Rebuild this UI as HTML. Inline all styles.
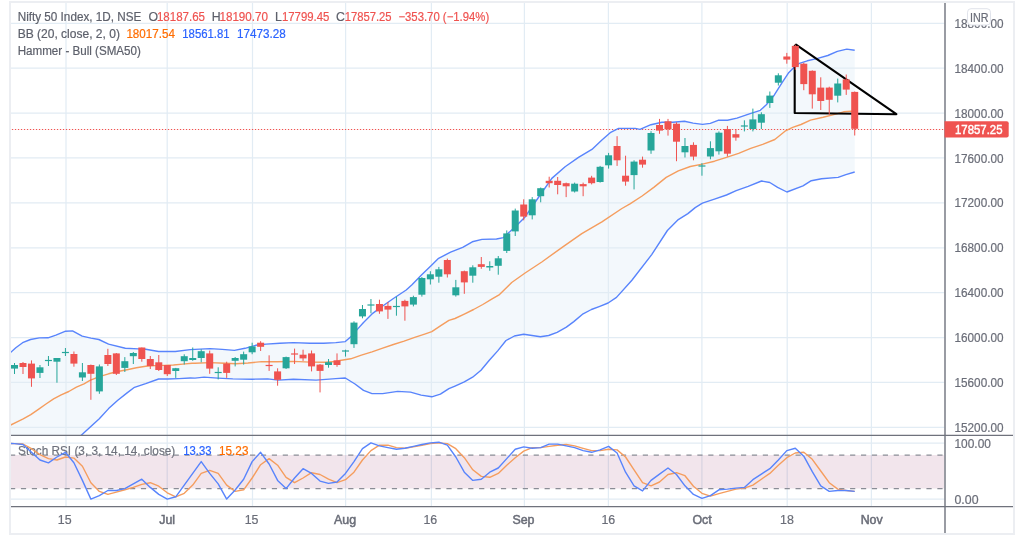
<!DOCTYPE html>
<html><head><meta charset="utf-8"><style>
html,body{margin:0;padding:0;background:#fff;width:1024px;height:539px;overflow:hidden;position:relative}
text{font-family:"Liberation Sans", sans-serif}
svg{will-change:transform}
.ax{font-size:12.4px;fill:#6a6d78;stroke:#6a6d78;stroke-width:0.2px}
.ax.w{stroke:#fff;stroke-width:0.45px}
.ax.b{stroke-width:0.5px}
.lg{font-size:12.3px;fill:#5d606b;stroke:#5d606b;stroke-width:0.2px}
</style></head><body>
<svg width="1024" height="539" viewBox="0 0 1024 539" style="position:absolute;left:0;top:0"><rect x="9" y="1" width="1006" height="534" fill="#fff" stroke="none"/><rect x="10" y="2" width="1004" height="532" fill="none" stroke="#eceef2" stroke-width="2"/><clipPath id="mainclip"><rect x="11" y="3" width="934" height="432"/></clipPath><clipPath id="stclip"><rect x="11" y="436" width="934" height="70"/></clipPath><g clip-path="url(#mainclip)"><polygon points="10.4,352.7 15.8,347.8 22.6,342.7 30.5,339.5 39.3,337.9 48,337.8 55.9,335.1 65.6,331.2 72.5,330.9 82.2,336.1 91,338.1 98.8,339.5 108.6,344.1 125.3,348.3 138.2,348.9 145.7,349.3 158.6,351.5 175.3,351.5 190.2,349.6 195,349.4 210.1,348.6 222.2,349.4 234.4,350.4 245,348.3 255.6,345.3 266.1,344.1 279.8,343.3 293.4,342.6 310,343.3 323.7,343.3 335.8,342.6 345.3,341.6 351.7,335.9 358.2,328.4 363.5,322.5 372,313.9 382.7,306 393.4,298.5 406.2,290 412,284.8 421.7,274.7 431.3,265.5 438.6,258.3 450.6,252.2 462.7,247.4 472.3,241.8 482,239.4 496.5,239 503.4,237.6 515,226.9 525.1,216.9 538.4,197.5 551.8,178.4 565.1,166.8 578.5,157.4 591.9,149.4 601.9,140 610.2,132.7 618.6,128.4 635.3,128.4 640,129.4 650.9,124.7 661.9,122.3 672.8,122.3 684.5,121.3 693.1,123.1 702.5,124.4 710.3,123.4 718.1,120.3 727.5,120.3 736.9,118.1 749.4,113.8 760.3,110.3 766.3,104.7 774.2,95.2 782.1,82.6 788.4,73.1 793.9,67.6 799.4,63.3 807.3,60.8 816.8,58.6 827.8,55.5 837.3,51.4 846.8,49.1 854.7,50.2 854.7,172 845.9,174.6 838.1,177.4 821.5,178.8 811.3,180.7 803,185.9 786.9,192 777.6,187.3 769.8,182.5 761.5,181 748.2,186.3 736.2,190.7 726.5,195 714.5,199.1 702.4,203.2 695.2,207.6 687.9,213.6 678.3,219.6 667.4,230.5 651.7,254.6 631.9,280.3 616.5,297.4 608.1,303 599.8,306.3 591.4,309.5 583.1,313.8 573.8,321.6 566.4,327.1 557.1,332.3 548.7,335.5 540.4,336.8 532,335.5 523.7,334.2 514.4,336 506,340.5 497.7,350.9 489.3,360.2 481,370.2 472.6,377.2 464.3,381.9 455,386.1 448.9,388.7 440.4,394.2 431.8,396.8 421.1,395.1 410.5,392.1 397.7,391.4 382.7,393.6 372,393.6 363.5,390.4 355,384 345.3,378 335.8,378.6 316.1,380.1 293.4,379.2 278.3,380.1 267.7,378.9 252.5,379.2 232.8,378.9 217.7,378.1 204.1,377.1 195,378.1 190.2,378 179.1,378.6 167.9,379 158.6,379 145.7,383.6 134.5,387.3 127.1,392.9 117.8,400.3 108.6,408.6 99.3,418.8 90,427.2 81,435.5 10,435.5" fill="#f3f8fc"/></g><path d="M11 23.3H945 M11 68.19H945 M11 113.08H945 M11 157.97H945 M11 202.86H945 M11 247.75H945 M11 292.64H945 M11 337.53H945 M11 382.42H945 M11 427.31H945 M11 443.2H945 M11 499.0H945 M66 3V506 M167.2 3V506 M252.5 3V506 M345.6 3V506 M431.4 3V506 M524.4 3V506 M608.4 3V506 M701.9 3V506 M787.2 3V506 M871.4 3V506" stroke="#e2ecf4" stroke-width="1.25" fill="none"/><g clip-path="url(#mainclip)"><path d="M11 129.5H945" stroke="#ef5350" stroke-width="1.2" stroke-dasharray="1.3 1.7" stroke-dashoffset="2.11" fill="none"/><polyline points="10.4,352.7 15.8,347.8 22.6,342.7 30.5,339.5 39.3,337.9 48,337.8 55.9,335.1 65.6,331.2 72.5,330.9 82.2,336.1 91,338.1 98.8,339.5 108.6,344.1 125.3,348.3 138.2,348.9 145.7,349.3 158.6,351.5 175.3,351.5 190.2,349.6 195,349.4 210.1,348.6 222.2,349.4 234.4,350.4 245,348.3 255.6,345.3 266.1,344.1 279.8,343.3 293.4,342.6 310,343.3 323.7,343.3 335.8,342.6 345.3,341.6 351.7,335.9 358.2,328.4 363.5,322.5 372,313.9 382.7,306 393.4,298.5 406.2,290 412,284.8 421.7,274.7 431.3,265.5 438.6,258.3 450.6,252.2 462.7,247.4 472.3,241.8 482,239.4 496.5,239 503.4,237.6 515,226.9 525.1,216.9 538.4,197.5 551.8,178.4 565.1,166.8 578.5,157.4 591.9,149.4 601.9,140 610.2,132.7 618.6,128.4 635.3,128.4 640,129.4 650.9,124.7 661.9,122.3 672.8,122.3 684.5,121.3 693.1,123.1 702.5,124.4 710.3,123.4 718.1,120.3 727.5,120.3 736.9,118.1 749.4,113.8 760.3,110.3 766.3,104.7 774.2,95.2 782.1,82.6 788.4,73.1 793.9,67.6 799.4,63.3 807.3,60.8 816.8,58.6 827.8,55.5 837.3,51.4 846.8,49.1 854.7,50.2" fill="none" stroke="#5884fc" stroke-width="1.4" stroke-linejoin="round"/><polyline points="81,435.5 90,427.2 99.3,418.8 108.6,408.6 117.8,400.3 127.1,392.9 134.5,387.3 145.7,383.6 158.6,379 167.9,379 179.1,378.6 190.2,378 195,378.1 204.1,377.1 217.7,378.1 232.8,378.9 252.5,379.2 267.7,378.9 278.3,380.1 293.4,379.2 316.1,380.1 335.8,378.6 345.3,378 355,384 363.5,390.4 372,393.6 382.7,393.6 397.7,391.4 410.5,392.1 421.1,395.1 431.8,396.8 440.4,394.2 448.9,388.7 455,386.1 464.3,381.9 472.6,377.2 481,370.2 489.3,360.2 497.7,350.9 506,340.5 514.4,336 523.7,334.2 532,335.5 540.4,336.8 548.7,335.5 557.1,332.3 566.4,327.1 573.8,321.6 583.1,313.8 591.4,309.5 599.8,306.3 608.1,303 616.5,297.4 631.9,280.3 651.7,254.6 667.4,230.5 678.3,219.6 687.9,213.6 695.2,207.6 702.4,203.2 714.5,199.1 726.5,195 736.2,190.7 748.2,186.3 761.5,181 769.8,182.5 777.6,187.3 786.9,192 803,185.9 811.3,180.7 821.5,178.8 838.1,177.4 845.9,174.6 854.7,172" fill="none" stroke="#5884fc" stroke-width="1.4" stroke-linejoin="round"/><polyline points="10.3,425.2 17.1,421.9 23.2,418.8 30.8,414.6 38.4,409.4 46,404 53.6,398.8 61.2,394.8 68.8,391.5 76.4,387.2 84,383.9 90,380.4 99.3,376.7 108.6,373.8 117.8,371.5 127.1,369.7 136.4,367.8 145.7,366.3 154.9,365.6 164.2,365.4 173.5,365 182.8,364.1 192,363.2 195,363.3 210.1,362.6 225.3,363.3 235.9,363.8 248,363 261.6,361.6 276.7,361.7 293.4,361.4 310,362.1 325.2,362.3 335.8,361.5 340,360.5 350.7,358.8 361.4,355.1 372,351.9 382.7,348.1 393.4,344.5 404.1,341.2 414.7,337.4 425.4,333.8 431.8,331.6 440.4,325.9 448.9,320.3 455,318.5 464.3,314.1 473.6,309.5 482.8,304.5 492.1,298.9 499.5,294.6 511.7,282.5 525.1,273 541.8,262 561.8,247.6 581.8,233.6 601.9,221.9 621.9,208.5 630,203.9 642.1,196 654.1,187.1 666.2,177.4 678.3,170.9 690.3,166.5 702.4,164.1 714.5,161.2 726.5,157.4 738.6,153.3 750.7,148.4 762.7,144.3 774.8,139.5 785,131.2 792.7,127.3 801,124.5 810.5,120.1 823.1,117.3 835.7,114.1 843.6,111.8 854.7,111" fill="none" stroke="#f59d5e" stroke-width="1.4" stroke-linejoin="round"/><path d="M794.7 113 L794.7 46 L796 44.7 L896.4 114.2 Z" fill="none" stroke="#000" stroke-width="2.1" stroke-linejoin="round"/><g><rect x="14" y="363" width="1" height="11" fill="#26a69a"/><rect x="11" y="365" width="7" height="3.6" fill="#26a69a"/><rect x="22.49" y="362" width="1" height="12" fill="#ef5350"/><rect x="19.49" y="363" width="7" height="4" fill="#ef5350"/><rect x="30.97" y="360.4" width="1" height="26.4" fill="#ef5350"/><rect x="27.97" y="363.6" width="7" height="14.8" fill="#ef5350"/><rect x="39.46" y="365" width="1" height="13" fill="#26a69a"/><rect x="36.46" y="367.3" width="7" height="5.6" fill="#26a69a"/><rect x="47.95" y="356" width="1" height="10" fill="#26a69a"/><rect x="44.95" y="359.9" width="7" height="1.2" fill="#26a69a"/><rect x="56.44" y="358" width="1" height="24.7" fill="#26a69a"/><rect x="53.44" y="358" width="7" height="3.7" fill="#26a69a"/><rect x="64.92" y="348" width="1" height="8" fill="#26a69a"/><rect x="61.92" y="351.9" width="7" height="1.2" fill="#26a69a"/><rect x="73.41" y="351.5" width="1" height="15.2" fill="#ef5350"/><rect x="70.41" y="354" width="7" height="9.6" fill="#ef5350"/><rect x="81.9" y="363" width="1" height="18" fill="#26a69a"/><rect x="78.9" y="372.3" width="7" height="5.2" fill="#26a69a"/><rect x="90.38" y="364.5" width="1" height="35.3" fill="#ef5350"/><rect x="87.38" y="365" width="7" height="8.8" fill="#ef5350"/><rect x="98.87" y="364.5" width="1" height="29.3" fill="#26a69a"/><rect x="95.87" y="366.4" width="7" height="25" fill="#26a69a"/><rect x="107.36" y="348.8" width="1" height="17.2" fill="#ef5350"/><rect x="104.36" y="355" width="7" height="9" fill="#ef5350"/><rect x="115.84" y="353" width="1" height="22" fill="#ef5350"/><rect x="112.84" y="353.4" width="7" height="20.4" fill="#ef5350"/><rect x="124.33" y="357.1" width="1" height="14.9" fill="#26a69a"/><rect x="121.33" y="361.2" width="7" height="6.7" fill="#26a69a"/><rect x="132.82" y="352" width="1" height="12" fill="#26a69a"/><rect x="129.82" y="353" width="7" height="3.2" fill="#26a69a"/><rect x="141.31" y="347.5" width="1" height="14.2" fill="#ef5350"/><rect x="138.31" y="347.5" width="7" height="11.5" fill="#ef5350"/><rect x="149.79" y="356" width="1" height="13" fill="#ef5350"/><rect x="146.79" y="359" width="7" height="7" fill="#ef5350"/><rect x="158.28" y="355" width="1" height="16" fill="#ef5350"/><rect x="155.28" y="362.3" width="7" height="7.7" fill="#ef5350"/><rect x="166.77" y="365" width="1" height="11" fill="#ef5350"/><rect x="163.77" y="365" width="7" height="9.2" fill="#ef5350"/><rect x="175.25" y="367.9" width="1" height="10" fill="#26a69a"/><rect x="172.25" y="368.2" width="7" height="2.8" fill="#26a69a"/><rect x="183.74" y="354.3" width="1" height="10.2" fill="#26a69a"/><rect x="180.74" y="356.2" width="7" height="5" fill="#26a69a"/><rect x="192.23" y="347.5" width="1" height="13.3" fill="#26a69a"/><rect x="189.23" y="358" width="7" height="2" fill="#26a69a"/><rect x="200.71" y="349.3" width="1" height="13" fill="#26a69a"/><rect x="197.71" y="351.2" width="7" height="6.8" fill="#26a69a"/><rect x="209.2" y="350.6" width="1" height="23.2" fill="#ef5350"/><rect x="206.2" y="353.4" width="7" height="15.2" fill="#ef5350"/><rect x="217.69" y="367.3" width="1" height="12.1" fill="#26a69a"/><rect x="214.69" y="371.9" width="7" height="1.2" fill="#26a69a"/><rect x="226.18" y="361.7" width="1" height="16.2" fill="#ef5350"/><rect x="223.18" y="363.6" width="7" height="9.3" fill="#ef5350"/><rect x="234.66" y="357" width="1" height="9.4" fill="#26a69a"/><rect x="231.66" y="358" width="7" height="2.8" fill="#26a69a"/><rect x="243.15" y="351.6" width="1" height="13" fill="#26a69a"/><rect x="240.15" y="354.2" width="7" height="5.5" fill="#26a69a"/><rect x="251.64" y="342.7" width="1" height="11.5" fill="#26a69a"/><rect x="248.64" y="346.4" width="7" height="5.9" fill="#26a69a"/><rect x="260.12" y="341.2" width="1" height="9.8" fill="#ef5350"/><rect x="257.12" y="342.7" width="7" height="4.1" fill="#ef5350"/><rect x="268.61" y="355.3" width="1" height="15.6" fill="#ef5350"/><rect x="265.61" y="364.9" width="7" height="1.2" fill="#ef5350"/><rect x="277.1" y="368.3" width="1" height="17.4" fill="#ef5350"/><rect x="274.1" y="371.4" width="7" height="8.4" fill="#ef5350"/><rect x="285.58" y="356.6" width="1" height="12.4" fill="#26a69a"/><rect x="282.58" y="357.1" width="7" height="11.2" fill="#26a69a"/><rect x="294.07" y="348.6" width="1" height="15.4" fill="#ef5350"/><rect x="291.07" y="353.4" width="7" height="1.2" fill="#ef5350"/><rect x="302.56" y="349.7" width="1" height="11.2" fill="#ef5350"/><rect x="299.56" y="354.7" width="7" height="3.7" fill="#ef5350"/><rect x="311.05" y="350.5" width="1" height="20.9" fill="#ef5350"/><rect x="308.05" y="353.4" width="7" height="13" fill="#ef5350"/><rect x="319.53" y="364" width="1" height="28.4" fill="#ef5350"/><rect x="316.53" y="364.6" width="7" height="6.3" fill="#ef5350"/><rect x="328.02" y="359" width="1" height="8.7" fill="#26a69a"/><rect x="325.02" y="362.2" width="7" height="2.8" fill="#26a69a"/><rect x="336.51" y="353.4" width="1" height="13.4" fill="#ef5350"/><rect x="333.51" y="360.3" width="7" height="4.7" fill="#ef5350"/><rect x="344.99" y="349.7" width="1" height="6.9" fill="#26a69a"/><rect x="341.99" y="350.4" width="7" height="1.2" fill="#26a69a"/><rect x="353.48" y="321.3" width="1" height="26.6" fill="#26a69a"/><rect x="350.48" y="322.6" width="7" height="21.6" fill="#26a69a"/><rect x="361.97" y="305" width="1" height="13.3" fill="#26a69a"/><rect x="358.97" y="309" width="7" height="7.4" fill="#26a69a"/><rect x="370.45" y="299" width="1" height="14.3" fill="#26a69a"/><rect x="367.45" y="304.4" width="7" height="1.2" fill="#26a69a"/><rect x="378.94" y="299.7" width="1" height="14.1" fill="#ef5350"/><rect x="375.94" y="304" width="7" height="7.4" fill="#ef5350"/><rect x="387.43" y="302" width="1" height="16.9" fill="#ef5350"/><rect x="384.43" y="305.9" width="7" height="3.7" fill="#ef5350"/><rect x="395.92" y="296.6" width="1" height="19.1" fill="#26a69a"/><rect x="392.92" y="305.9" width="7" height="1.2" fill="#26a69a"/><rect x="404.4" y="299.7" width="1" height="21" fill="#ef5350"/><rect x="401.4" y="300.9" width="7" height="5.5" fill="#ef5350"/><rect x="412.89" y="295.7" width="1" height="10.7" fill="#26a69a"/><rect x="409.89" y="297.1" width="7" height="7.5" fill="#26a69a"/><rect x="421.38" y="277" width="1" height="19.6" fill="#26a69a"/><rect x="418.38" y="278" width="7" height="16.7" fill="#26a69a"/><rect x="429.86" y="271.2" width="1" height="13.3" fill="#26a69a"/><rect x="426.86" y="274.3" width="7" height="5" fill="#26a69a"/><rect x="438.35" y="266.9" width="1" height="15.8" fill="#26a69a"/><rect x="435.35" y="269.3" width="7" height="7.4" fill="#26a69a"/><rect x="446.84" y="258.6" width="1" height="18.9" fill="#ef5350"/><rect x="443.84" y="260" width="7" height="14.3" fill="#ef5350"/><rect x="455.32" y="279.9" width="1" height="16.7" fill="#26a69a"/><rect x="452.32" y="287.3" width="7" height="8" fill="#26a69a"/><rect x="463.81" y="270.6" width="1" height="23.2" fill="#ef5350"/><rect x="460.81" y="271.2" width="7" height="11.2" fill="#ef5350"/><rect x="472.3" y="265.3" width="1" height="17.4" fill="#26a69a"/><rect x="469.3" y="267.3" width="7" height="8.4" fill="#26a69a"/><rect x="480.79" y="257" width="1" height="11.8" fill="#ef5350"/><rect x="477.79" y="264.2" width="7" height="2.7" fill="#ef5350"/><rect x="489.27" y="261.3" width="1" height="9.5" fill="#26a69a"/><rect x="486.27" y="266" width="7" height="1.5" fill="#26a69a"/><rect x="497.76" y="256" width="1" height="18.7" fill="#26a69a"/><rect x="494.76" y="258.3" width="7" height="7.5" fill="#26a69a"/><rect x="506.25" y="230.4" width="1" height="22.6" fill="#26a69a"/><rect x="503.25" y="233.4" width="7" height="17.5" fill="#26a69a"/><rect x="514.73" y="208.6" width="1" height="27.4" fill="#26a69a"/><rect x="511.73" y="210.5" width="7" height="20.9" fill="#26a69a"/><rect x="523.22" y="199.3" width="1" height="21" fill="#ef5350"/><rect x="520.22" y="204.5" width="7" height="12.1" fill="#ef5350"/><rect x="531.71" y="197.1" width="1" height="22.3" fill="#26a69a"/><rect x="528.71" y="199.3" width="7" height="16" fill="#26a69a"/><rect x="540.19" y="187.5" width="1" height="14.8" fill="#26a69a"/><rect x="537.19" y="188.2" width="7" height="8" fill="#26a69a"/><rect x="548.68" y="176.7" width="1" height="10.8" fill="#ef5350"/><rect x="545.68" y="180.8" width="7" height="2.4" fill="#ef5350"/><rect x="557.17" y="177" width="1" height="17.3" fill="#ef5350"/><rect x="554.17" y="180.8" width="7" height="4.2" fill="#ef5350"/><rect x="565.65" y="182.6" width="1" height="14.5" fill="#ef5350"/><rect x="562.65" y="183.2" width="7" height="3.1" fill="#ef5350"/><rect x="574.14" y="182.6" width="1" height="9.9" fill="#26a69a"/><rect x="571.14" y="183.7" width="7" height="7.8" fill="#26a69a"/><rect x="582.63" y="182.6" width="1" height="13.6" fill="#ef5350"/><rect x="579.63" y="184.1" width="7" height="2.2" fill="#ef5350"/><rect x="591.12" y="175.8" width="1" height="8.6" fill="#ef5350"/><rect x="588.12" y="177.6" width="7" height="5.6" fill="#ef5350"/><rect x="599.6" y="165.9" width="1" height="16.7" fill="#26a69a"/><rect x="596.6" y="166.8" width="7" height="15.2" fill="#26a69a"/><rect x="608.09" y="152.9" width="1" height="15.7" fill="#26a69a"/><rect x="605.09" y="155.3" width="7" height="10" fill="#26a69a"/><rect x="616.58" y="136.2" width="1" height="29.7" fill="#ef5350"/><rect x="613.58" y="146" width="7" height="14.3" fill="#ef5350"/><rect x="625.06" y="155.7" width="1" height="30" fill="#ef5350"/><rect x="622.06" y="175.7" width="7" height="5.9" fill="#ef5350"/><rect x="633.55" y="160.3" width="1" height="29.1" fill="#26a69a"/><rect x="630.55" y="161.6" width="7" height="13.5" fill="#26a69a"/><rect x="642.04" y="156.6" width="1" height="11.1" fill="#ef5350"/><rect x="639.04" y="159.7" width="7" height="4.9" fill="#ef5350"/><rect x="650.52" y="131.2" width="1" height="22.6" fill="#26a69a"/><rect x="647.52" y="133" width="7" height="17.5" fill="#26a69a"/><rect x="659.01" y="118.9" width="1" height="14.9" fill="#ef5350"/><rect x="656.01" y="125" width="7" height="5.6" fill="#ef5350"/><rect x="667.5" y="118.9" width="1" height="16.7" fill="#ef5350"/><rect x="664.5" y="121.3" width="7" height="8" fill="#ef5350"/><rect x="675.99" y="122.3" width="1" height="38.9" fill="#ef5350"/><rect x="672.99" y="123.7" width="7" height="18" fill="#ef5350"/><rect x="684.47" y="138" width="1" height="19.5" fill="#26a69a"/><rect x="681.47" y="146" width="7" height="6.3" fill="#26a69a"/><rect x="692.96" y="142.3" width="1" height="18" fill="#ef5350"/><rect x="689.96" y="144.9" width="7" height="11.7" fill="#ef5350"/><rect x="701.45" y="163.1" width="1" height="12.6" fill="#26a69a"/><rect x="698.45" y="165.4" width="7" height="1.2" fill="#26a69a"/><rect x="709.93" y="141.3" width="1" height="18" fill="#26a69a"/><rect x="706.93" y="148.1" width="7" height="8.4" fill="#26a69a"/><rect x="718.42" y="131.4" width="1" height="23.2" fill="#26a69a"/><rect x="715.42" y="132.7" width="7" height="18.6" fill="#26a69a"/><rect x="726.91" y="125.9" width="1" height="30.6" fill="#ef5350"/><rect x="723.91" y="129" width="7" height="24.7" fill="#ef5350"/><rect x="735.39" y="129" width="1" height="11.7" fill="#ef5350"/><rect x="732.39" y="134.2" width="7" height="3.4" fill="#ef5350"/><rect x="743.88" y="120.3" width="1" height="11.1" fill="#26a69a"/><rect x="740.88" y="125.4" width="7" height="1.2" fill="#26a69a"/><rect x="752.37" y="108.6" width="1" height="22.8" fill="#26a69a"/><rect x="749.37" y="119.4" width="7" height="9.6" fill="#26a69a"/><rect x="760.86" y="112.3" width="1" height="16.7" fill="#26a69a"/><rect x="757.86" y="114.2" width="7" height="8.5" fill="#26a69a"/><rect x="769.34" y="91.5" width="1" height="16.4" fill="#26a69a"/><rect x="766.34" y="95.6" width="7" height="7.4" fill="#26a69a"/><rect x="777.83" y="73.3" width="1" height="12.2" fill="#26a69a"/><rect x="774.83" y="75.3" width="7" height="7.4" fill="#26a69a"/><rect x="786.32" y="52.9" width="1" height="10.8" fill="#ef5350"/><rect x="783.32" y="56.5" width="7" height="3.1" fill="#ef5350"/><rect x="794.8" y="44.7" width="1" height="25.1" fill="#ef5350"/><rect x="791.8" y="45.9" width="7" height="21.2" fill="#ef5350"/><rect x="803.29" y="62.7" width="1" height="27.5" fill="#ef5350"/><rect x="800.29" y="63.7" width="7" height="20.4" fill="#ef5350"/><rect x="811.78" y="70.4" width="1" height="38.2" fill="#ef5350"/><rect x="808.78" y="70.8" width="7" height="23.5" fill="#ef5350"/><rect x="820.26" y="77.3" width="1" height="32.7" fill="#ef5350"/><rect x="817.26" y="87.6" width="7" height="13.4" fill="#ef5350"/><rect x="828.75" y="86.7" width="1" height="28" fill="#ef5350"/><rect x="825.75" y="87.6" width="7" height="12.2" fill="#ef5350"/><rect x="837.24" y="78.6" width="1" height="23.8" fill="#26a69a"/><rect x="834.24" y="83.5" width="7" height="12.2" fill="#26a69a"/><rect x="845.73" y="74.5" width="1" height="20.4" fill="#ef5350"/><rect x="842.73" y="79.4" width="7" height="10.2" fill="#ef5350"/><rect x="854.21" y="91.5" width="1" height="44" fill="#ef5350"/><rect x="851.21" y="91.9" width="7" height="36.9" fill="#ef5350"/></g></g><g clip-path="url(#stclip)"><rect x="11" y="455" width="933" height="33.5" fill="rgba(125,0,65,0.1)"/><path d="M11 455.1H945M11 488.6H945" stroke="#8a8d96" stroke-width="1.4" stroke-dasharray="5.2 5.71" stroke-dashoffset="1" fill="none"/><text x="18.1" y="455.1" class="lg" style="fill:#6f727d;stroke:#6f727d" textLength="157.2" lengthAdjust="spacingAndGlyphs">Stoch RSI (3, 3, 14, 14, close)</text><text x="183.2" y="455.1" class="lg" style="fill:#2962ff;stroke:#2962ff" textLength="28.3" lengthAdjust="spacingAndGlyphs">13.33</text><text x="219.1" y="455.1" class="lg" style="fill:#ff6d00;stroke:#ff6d00" textLength="29.3" lengthAdjust="spacingAndGlyphs">15.23</text><polyline points="6,443.4 14.5,443.6 22.99,444 31.47,448.7 39.96,454.6 48.45,458.6 56.94,460 65.42,457 73.91,458.1 82.4,466.3 90.88,482.7 99.37,491.4 107.86,494.4 116.34,492.1 124.83,489.8 133.32,487.4 141.81,484.4 150.29,482.7 158.78,486.2 167.27,492.8 175.75,496.8 184.24,493.3 192.73,485.1 201.21,473.4 209.7,470.3 218.19,473.4 226.68,485.1 235.16,491.4 243.65,489.8 252.14,478 260.62,464.7 269.11,458.6 277.6,465.2 286.08,477.3 294.57,482.7 303.06,478 311.55,472.7 320.03,474.5 328.52,479.2 337.01,482.7 345.49,479.7 353.98,472.2 362.47,460 370.95,450.6 379.44,445.2 387.93,445.2 396.42,447.6 404.9,448.3 413.39,446.9 421.88,445.2 430.36,443.6 438.85,442.9 447.34,443.6 455.82,448.7 464.31,457.7 472.8,469.8 481.29,476.4 489.77,477.3 498.26,473.4 506.75,465.2 515.23,457.7 523.72,451.1 532.21,447.6 540.69,447.6 549.18,446.4 557.67,445.2 566.15,444.5 574.64,445.9 583.13,448.3 591.62,450.6 600.1,450.6 608.59,449.2 617.08,449.9 625.56,457 634.05,469.8 642.54,482.7 651.02,485.8 659.51,482 668,474.5 676.49,472.7 684.97,475.7 693.46,486.2 701.95,493.3 710.43,496.1 718.92,493.7 727.41,491.4 735.89,489.1 744.38,488.1 752.87,485.1 761.36,479.2 769.84,473.4 778.33,465.2 786.82,457.7 795.3,453 803.79,452.3 812.28,459.3 820.76,471 829.25,482.7 837.74,489.1 846.23,490.5 854.71,491.4" fill="none" stroke="#f59d5e" stroke-width="1.4" stroke-linejoin="round"/><polyline points="6,443.4 14.5,443.6 22.99,444.5 31.47,452.3 39.96,460 48.45,462.8 56.94,457 65.42,452.3 73.91,462.8 82.4,480.4 90.88,499.1 99.37,495.6 107.86,490.5 116.34,490.5 124.83,488.6 133.32,483.9 141.81,479.2 150.29,487.4 158.78,494.4 167.27,499.1 175.75,496.8 184.24,485.1 192.73,473.4 201.21,461.6 209.7,473.4 218.19,483.9 226.68,499.1 235.16,490 243.65,479.2 252.14,461.6 260.62,452.3 269.11,464 277.6,480.4 286.08,488.6 294.57,478 303.06,468.7 311.55,473.4 320.03,481.1 328.52,483.4 337.01,482 345.49,473.4 353.98,461.6 362.47,448.7 370.95,442.9 379.44,445.9 387.93,447.6 396.42,449.2 404.9,448.3 413.39,446.4 421.88,444.5 430.36,442.9 438.85,442.2 447.34,445.2 455.82,457 464.31,472.2 472.8,480.4 481.29,479.2 489.77,472.2 498.26,468 506.75,458.6 515.23,449.2 523.72,446.9 532.21,448.3 540.69,447.6 549.18,444.1 557.67,444.1 566.15,445.9 574.64,447.6 583.13,450.6 591.62,452.3 600.1,449.9 608.59,446.4 617.08,453 625.56,472.2 634.05,485.8 642.54,490.9 651.02,480.4 659.51,474.1 668,468 676.49,474.5 684.97,485.8 693.46,494.4 701.95,498.4 710.43,495.6 718.92,489.8 727.41,489.1 735.89,488.1 744.38,487.4 752.87,479.7 761.36,474.1 769.84,468.7 778.33,460 786.82,450.6 795.3,448.3 803.79,456.2 812.28,471.7 820.76,485.8 829.25,491.4 837.74,490.5 846.23,490.5 854.71,491.4" fill="none" stroke="#5884fc" stroke-width="1.4" stroke-linejoin="round"/></g><path d="M945 3V533" stroke="#8e9199" stroke-width="1.8" fill="none"/><path d="M11 435.35H1013M11 506.55H1013" stroke="#6f727c" stroke-width="1.3" fill="none"/></svg>
<svg width="1024" height="539" viewBox="0 0 1024 539" style="position:absolute;left:0;top:0"><text x="954.5" y="27.9" class="ax" textLength="49" lengthAdjust="spacingAndGlyphs">18800.00</text><text x="954.5" y="72.79" class="ax" textLength="49" lengthAdjust="spacingAndGlyphs">18400.00</text><text x="954.5" y="117.68" class="ax" textLength="49" lengthAdjust="spacingAndGlyphs">18000.00</text><text x="954.5" y="162.57" class="ax" textLength="49" lengthAdjust="spacingAndGlyphs">17600.00</text><text x="954.5" y="207.46" class="ax" textLength="49" lengthAdjust="spacingAndGlyphs">17200.00</text><text x="954.5" y="252.35" class="ax" textLength="49" lengthAdjust="spacingAndGlyphs">16800.00</text><text x="954.5" y="297.24" class="ax" textLength="49" lengthAdjust="spacingAndGlyphs">16400.00</text><text x="954.5" y="342.13" class="ax" textLength="49" lengthAdjust="spacingAndGlyphs">16000.00</text><text x="954.5" y="387.02" class="ax" textLength="49" lengthAdjust="spacingAndGlyphs">15600.00</text><text x="954.5" y="431.91" class="ax" textLength="49" lengthAdjust="spacingAndGlyphs">15200.00</text><text x="954.5" y="447.8" class="ax" textLength="36.4" lengthAdjust="spacingAndGlyphs">100.00</text><text x="954.5" y="503.8" class="ax" textLength="24" lengthAdjust="spacingAndGlyphs">0.00</text><rect x="967.5" y="8.7" width="23" height="16.3" rx="3.5" fill="#fff" stroke="#e0e3eb" stroke-width="1"/><text x="970" y="22" class="ax" textLength="18.5" lengthAdjust="spacingAndGlyphs">INR</text><path d="M944.5 121.2H1006.7A2 2 0 0 1 1008.7 123.2V135.6A2 2 0 0 1 1006.7 137.6H944.5Z" fill="#ef5350"/><text x="955" y="133.7" class="ax w" style="fill:#fff;stroke:#fff" textLength="47.5" lengthAdjust="spacingAndGlyphs">17857.25</text><text x="64.7" y="523.9" class="ax" text-anchor="middle">15</text><text x="167.2" y="523.9" class="ax b" text-anchor="middle">Jul</text><text x="251.6" y="523.9" class="ax" text-anchor="middle">15</text><text x="345.1" y="523.9" class="ax b" text-anchor="middle">Aug</text><text x="430.3" y="523.9" class="ax" text-anchor="middle">16</text><text x="523.5" y="523.9" class="ax b" text-anchor="middle">Sep</text><text x="608.3" y="523.9" class="ax" text-anchor="middle">16</text><text x="702.1" y="523.9" class="ax b" text-anchor="middle">Oct</text><text x="787" y="523.9" class="ax" text-anchor="middle">18</text><text x="871.7" y="523.9" class="ax b" text-anchor="middle">Nov</text><text x="17.7" y="20.7" class="lg" textLength="123.60000000000001" lengthAdjust="spacingAndGlyphs">Nifty 50 Index, 1D, NSE</text><text x="148.5" y="20.7" class="lg" style="fill:#5d606b;stroke:#5d606b">O</text><text x="156.9" y="20.7" class="lg" style="fill:#ef5350;stroke:#ef5350" textLength="48.1" lengthAdjust="spacingAndGlyphs">18187.65</text><text x="211.8" y="20.7" class="lg" style="fill:#5d606b;stroke:#5d606b">H</text><text x="219.4" y="20.7" class="lg" style="fill:#ef5350;stroke:#ef5350" textLength="48.7" lengthAdjust="spacingAndGlyphs">18190.70</text><text x="275" y="20.7" class="lg" style="fill:#5d606b;stroke:#5d606b">L</text><text x="281.9" y="20.7" class="lg" style="fill:#ef5350;stroke:#ef5350" textLength="47.5" lengthAdjust="spacingAndGlyphs">17799.45</text><text x="336" y="20.7" class="lg" style="fill:#5d606b;stroke:#5d606b">C</text><text x="344.7" y="20.7" class="lg" style="fill:#ef5350;stroke:#ef5350" textLength="46.900000000000006" lengthAdjust="spacingAndGlyphs">17857.25</text><text x="398.4" y="20.7" class="lg" style="fill:#ef5350;stroke:#ef5350" textLength="90.8" lengthAdjust="spacingAndGlyphs">−353.70 (−1.94%)</text><text x="17.7" y="37.5" class="lg" textLength="102.2" lengthAdjust="spacingAndGlyphs">BB (20, close, 2, 0)</text><text x="126.4" y="37.5" class="lg" style="fill:#ff6d00;stroke:#ff6d00" textLength="48.5" lengthAdjust="spacingAndGlyphs">18017.54</text><text x="182.3" y="37.5" class="lg" style="fill:#2962ff;stroke:#2962ff" textLength="47.300000000000004" lengthAdjust="spacingAndGlyphs">18561.81</text><text x="237" y="37.5" class="lg" style="fill:#2962ff;stroke:#2962ff" textLength="48.7" lengthAdjust="spacingAndGlyphs">17473.28</text><text x="17.7" y="54.5" class="lg" textLength="123.2" lengthAdjust="spacingAndGlyphs">Hammer - Bull (SMA50)</text></svg>
</body></html>
